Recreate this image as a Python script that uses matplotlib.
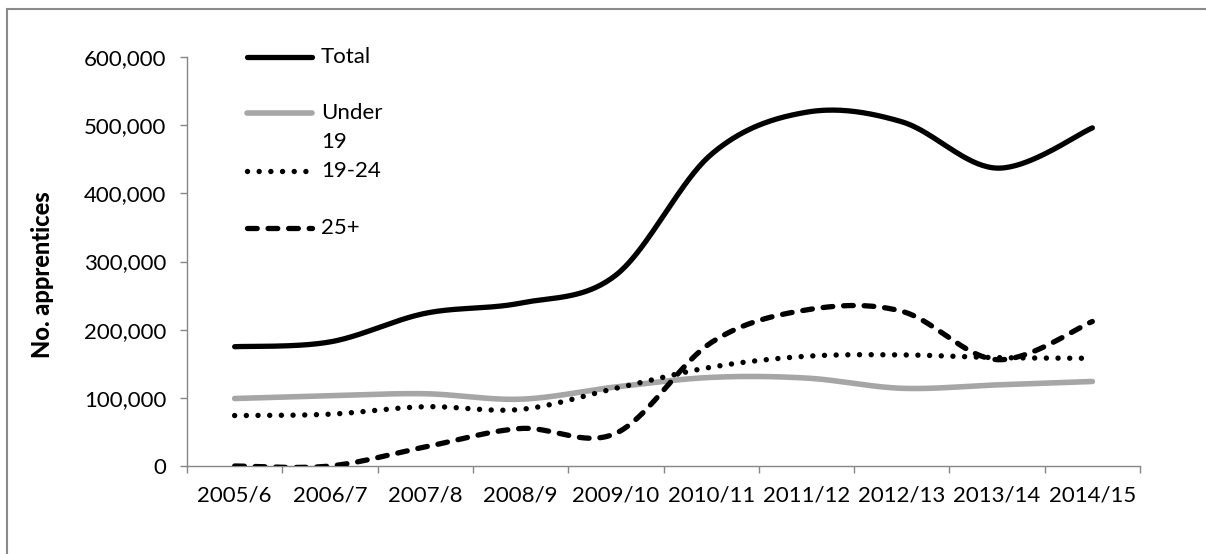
import numpy as np
import matplotlib
matplotlib.use("Agg")
import matplotlib.pyplot as plt
from matplotlib.lines import Line2D
from matplotlib.patches import Rectangle
from matplotlib.ticker import FuncFormatter

plt.rcParams['font.family'] = ['Lato', 'DejaVu Sans']
plt.rcParams['lines.scale_dashes'] = False

categories = ['2005/6', '2006/7', '2007/8', '2008/9', '2009/10',
              '2010/11', '2011/12', '2012/13', '2013/14', '2014/15']
total = [175000, 182000, 224000, 239000, 280000, 457000, 519000, 505000, 437000, 496000]
under_19 = [99000, 103000, 106000, 98000, 116000, 130000, 129000, 114000, 119000, 124000]
age_19_24 = [74000, 76000, 87000, 83000, 114000, 145000, 161000, 163000, 159000, 158000]
age_25_plus = [0, 0, 28000, 55000, 48000, 181000, 229000, 227000, 156000, 212000]

series_labels = ['Total', 'Under\n19', '19-24', '25+']

FS = 16

W, H = 1206, 554
fig = plt.figure(figsize=(W / 100, H / 100), dpi=100)
fig.patch.set_facecolor('white')


def fx(px):
    return px / W


def fy(py):
    return 1 - py / H


ax = fig.add_axes([fx(187), fy(466), fx(1140) - fx(187), fy(57) - fy(466)])


def smooth(values, n=40):
    """Catmull-Rom style smoothing through every point (spreadsheet 'smoothed line')."""
    pts = np.column_stack([np.arange(len(values), dtype=float), np.asarray(values, dtype=float)])
    ext = np.vstack([pts[0], pts, pts[-1]])
    out = []
    t = np.linspace(0, 1, n)[:, None]
    for i in range(len(pts) - 1):
        p0, p1, p2, p3 = ext[i], ext[i + 1], ext[i + 2], ext[i + 3]
        c1 = p1 + (p2 - p0) / 6
        c2 = p2 - (p3 - p1) / 6
        seg = ((1 - t) ** 3) * p1 + 3 * ((1 - t) ** 2) * t * c1 + 3 * (1 - t) * t ** 2 * c2 + t ** 3 * p2
        out.append(seg if i == 0 else seg[1:])
    seg = np.vstack(out)
    return seg[:, 0], seg[:, 1]


styles = [
    dict(color='black', lw=3.8, solid_capstyle='round'),
    dict(color='#a6a6a6', lw=4.0, solid_capstyle='round'),
    dict(color='black', lw=3.9, dashes=(0.01, 8.4), dash_capstyle='round'),
    dict(color='black', lw=3.8, dashes=(7.0, 7.8), dash_capstyle='round'),
]
data = [total, under_19, age_19_24, age_25_plus]

for vals, st in zip(data, styles):
    xs, ys = smooth(vals)
    ax.plot(xs, ys, **st, zorder=3)

ax.set_xlim(-0.5, len(categories) - 0.5)
ax.set_ylim(0, 600000)

axis_grey = '#868686'
for side in ['top', 'right']:
    ax.spines[side].set_visible(False)
for side in ['left', 'bottom']:
    ax.spines[side].set_color(axis_grey)
    ax.spines[side].set_linewidth(1.0)

ax.set_yticks(np.arange(0, 600001, 100000))
ax.yaxis.set_major_formatter(FuncFormatter(lambda v, p: f'{int(v):,}'))
ax.tick_params(axis='y', direction='out', length=5, width=1.0, color=axis_grey,
               labelsize=FS, pad=10, labelcolor='black')

ax.set_xticks(np.arange(-0.5, len(categories), 1.0))
ax.set_xticklabels([])
ax.set_xticks(np.arange(len(categories)), minor=True)
ax.set_xticklabels(categories, minor=True)
ax.tick_params(axis='x', which='major', direction='out', length=5, width=1.0, color=axis_grey)
ax.tick_params(axis='x', which='minor', length=0, labelsize=FS, pad=14, labelcolor='black')

fig.text(fx(43), fy(275), 'No. apprentices', rotation=90, ha='center', va='center',
         fontsize=17, fontweight='black')

# legend drawn at fixed positions inside the plot area
legend_rows = [57, 113, 171, 228]
for lab, st, py in zip(series_labels, styles, legend_rows):
    fig.add_artist(Line2D([fx(247), fx(312)], [fy(py), fy(py)], transform=fig.transFigure, **st))
    for k, part in enumerate(lab.split('\n')):
        fig.text(fx(321), fy(py + 29 * k), part, ha='left', va='center', fontsize=FS)

# chart border
fig.add_artist(Rectangle((fx(7), -0.05), 1.2, fy(9) + 0.05, transform=fig.transFigure,
                         fill=False, edgecolor='#8a8a8a', lw=1.5))

fig.savefig('out.png', dpi=100)
